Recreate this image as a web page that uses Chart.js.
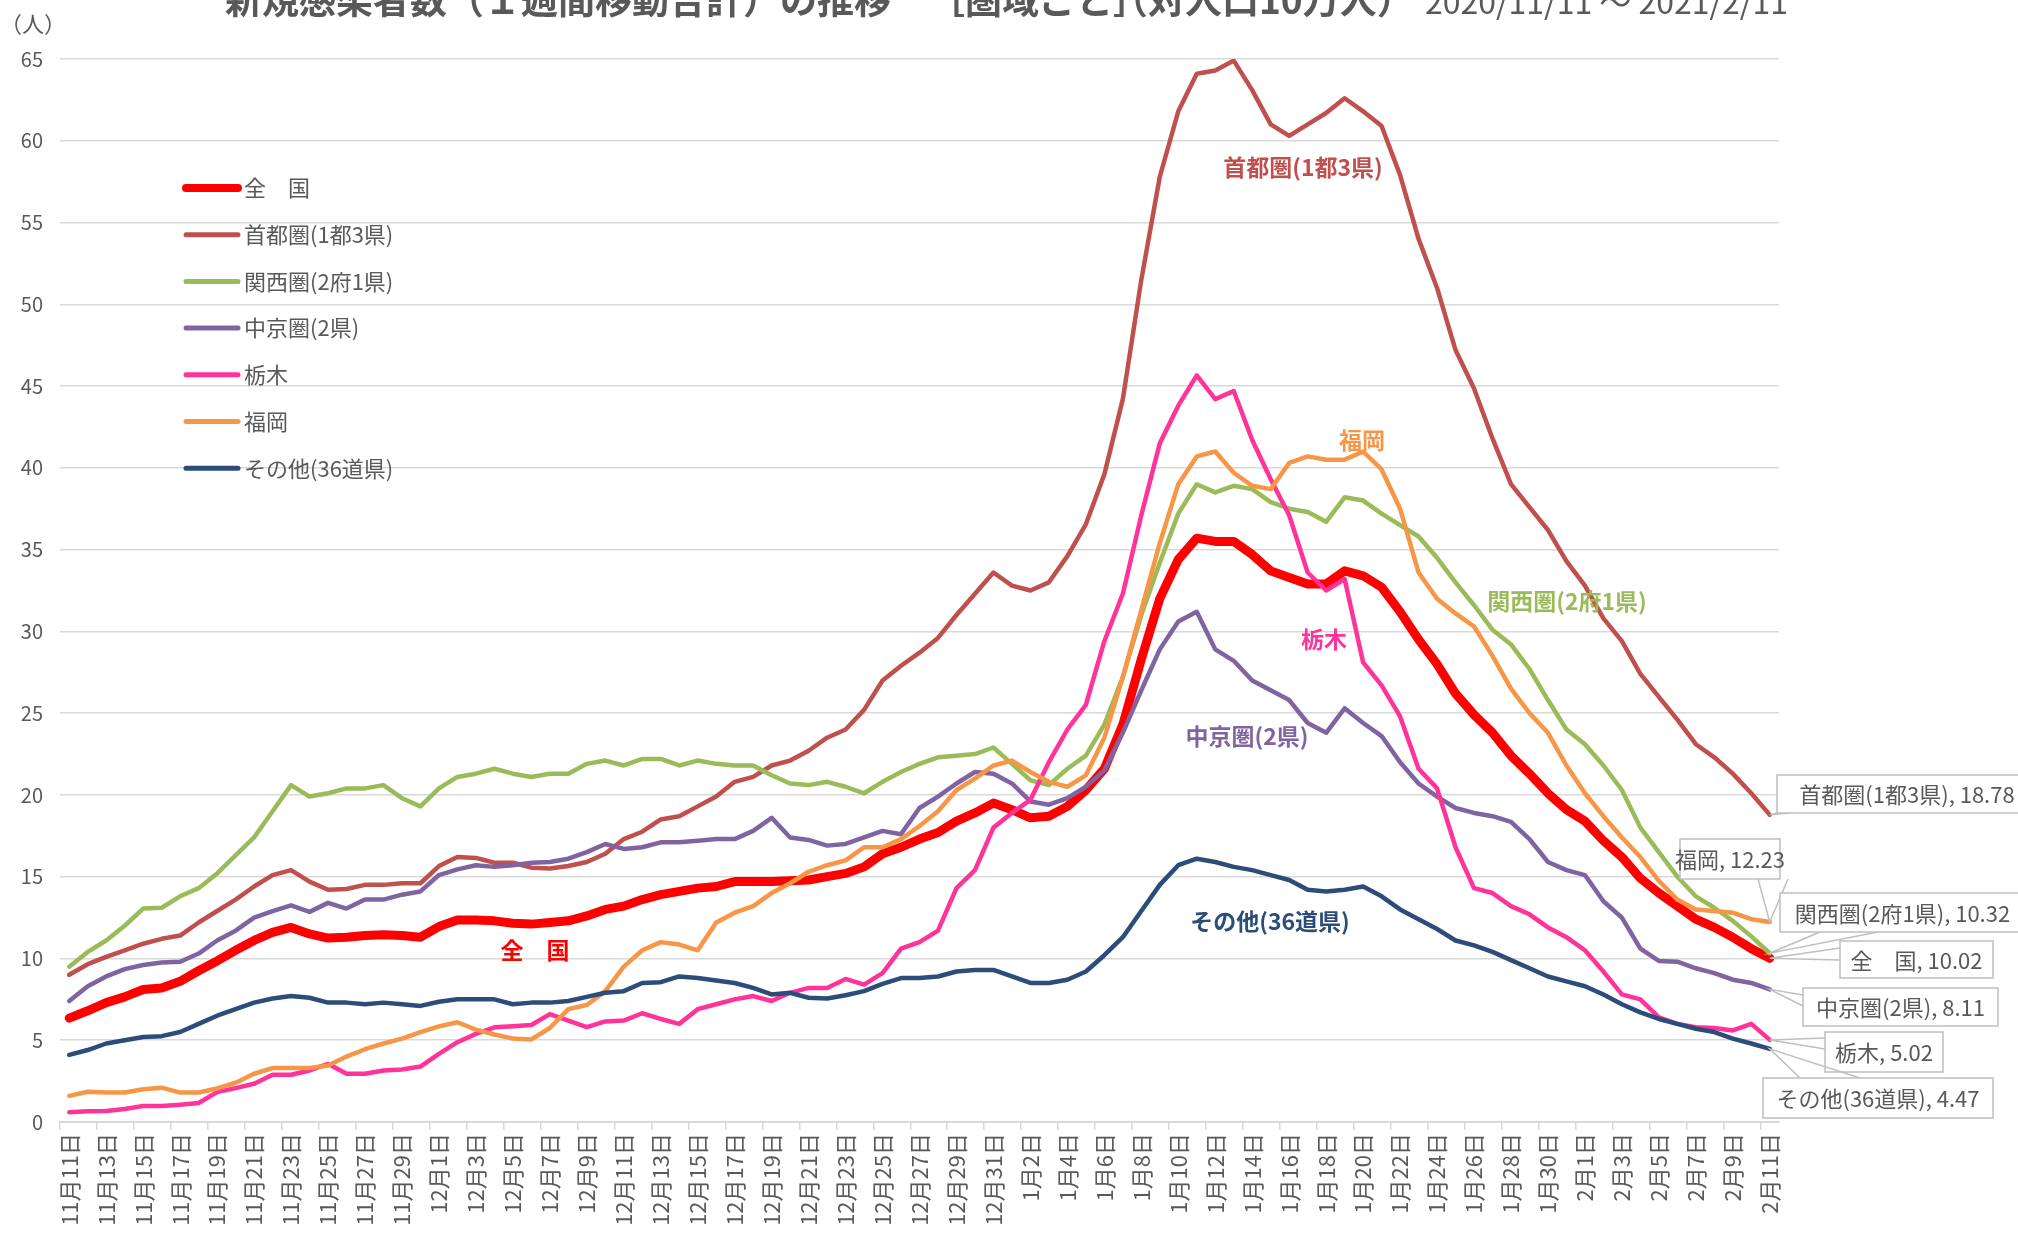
<!DOCTYPE html>
<html>
<head>
<meta charset="utf-8">
<script src="https://cdn.jsdelivr.net/npm/chart.js@4.4.1/dist/chart.umd.min.js"></script>
<style>
  html, body { margin: 0; padding: 0; background: #fff; }
  #wrap { width: 2018px; height: 1233px; position: relative; }
</style>
</head>
<body>
<div id="wrap"><canvas id="chart"></canvas></div>
<script>
const FONT = '"Noto Sans CJK JP", "Noto Sans", sans-serif';

const dates = [
  "11月11日","11月12日","11月13日","11月14日","11月15日","11月16日","11月17日","11月18日","11月19日","11月20日",
  "11月21日","11月22日","11月23日","11月24日","11月25日","11月26日","11月27日","11月28日","11月29日","11月30日",
  "12月1日","12月2日","12月3日","12月4日","12月5日","12月6日","12月7日","12月8日","12月9日","12月10日",
  "12月11日","12月12日","12月13日","12月14日","12月15日","12月16日","12月17日","12月18日","12月19日","12月20日",
  "12月21日","12月22日","12月23日","12月24日","12月25日","12月26日","12月27日","12月28日","12月29日","12月30日","12月31日",
  "1月1日","1月2日","1月3日","1月4日","1月5日","1月6日","1月7日","1月8日","1月9日","1月10日",
  "1月11日","1月12日","1月13日","1月14日","1月15日","1月16日","1月17日","1月18日","1月19日","1月20日",
  "1月21日","1月22日","1月23日","1月24日","1月25日","1月26日","1月27日","1月28日","1月29日","1月30日","1月31日",
  "2月1日","2月2日","2月3日","2月4日","2月5日","2月6日","2月7日","2月8日","2月9日","2月10日","2月11日"
];

const zenkoku = [
  6.35, 6.8, 7.3, 7.65, 8.1, 8.2, 8.6, 9.25, 9.85, 10.5, 11.1, 11.6, 11.9, 11.5, 11.25, 11.3, 11.4, 11.45, 11.4, 11.3,
  11.95, 12.35, 12.35, 12.3, 12.15, 12.1, 12.2, 12.3, 12.6, 13.0,
  13.2, 13.6, 13.9, 14.1, 14.3, 14.4, 14.7, 14.7, 14.7, 14.75, 14.8, 15.0, 15.2, 15.6, 16.4, 16.8, 17.3, 17.7, 18.4, 18.9,
  19.5, 19.1, 18.6, 18.7, 19.3, 20.3, 21.6,
  24.3, 28.3, 32.0, 34.4, 35.7, 35.5, 35.5, 34.7, 33.7, 33.3, 32.9, 32.9, 33.7, 33.4, 32.7, 31.2, 29.5, 28.0, 26.2, 24.9,
  23.8, 22.4, 21.3, 20.1, 19.1, 18.4, 17.2, 16.2, 14.9, 14.0, 13.2, 12.4, 11.9, 11.3, 10.6, 10.02
];

const shutoken = [
  9.0, 9.65, 10.1, 10.5, 10.9, 11.2, 11.4, 12.2, 12.9, 13.6, 14.4, 15.1, 15.4, 14.7, 14.2, 14.25, 14.5, 14.5, 14.6, 14.6,
  15.65, 16.2, 16.15, 15.85, 15.85, 15.55, 15.5, 15.65, 15.9, 16.4,
  17.3, 17.75, 18.5, 18.7, 19.3, 19.9, 20.8, 21.1, 21.8, 22.1, 22.7, 23.5, 24.0, 25.2, 27.0, 27.9, 28.7, 29.6, 31.0, 32.3,
  33.6, 32.8, 32.5, 33.0, 34.6,
  36.55, 39.6, 44.2, 51.5, 57.8, 61.8, 64.1, 64.3, 64.9, 63.1, 61.0, 60.3, 61.0, 61.7, 62.6, 61.8, 60.9, 57.9, 54.0, 51.0,
  47.2, 44.85,
  41.8, 39.0, 37.6, 36.2, 34.3, 32.8, 30.8, 29.4, 27.4, 26.0, 24.6, 23.1, 22.3, 21.3, 20.1, 18.78
];

const kansai = [
  9.5, 10.4, 11.1, 12.0, 13.05, 13.1, 13.8, 14.3, 15.2, 16.3, 17.4, 19.0, 20.6, 19.9, 20.1, 20.4, 20.4, 20.6, 19.8, 19.3,
  20.4, 21.1, 21.3, 21.6, 21.3, 21.1, 21.3, 21.3, 21.9, 22.1,
  21.8, 22.2, 22.2, 21.8, 22.1, 21.9, 21.8, 21.8, 21.2, 20.7, 20.6, 20.8, 20.5, 20.1, 20.8, 21.4, 21.9, 22.3, 22.4, 22.5,
  22.9, 21.9, 20.9, 20.6, 21.6, 22.4, 24.3,
  27.2, 31.0, 34.2, 37.2, 39.0, 38.5, 38.9, 38.7, 37.9, 37.5, 37.3, 36.7, 38.2, 38.0, 37.2, 36.5, 35.8, 34.5,
  33.0, 31.6, 30.1, 29.2, 27.7, 25.8, 24.0, 23.1, 21.8, 20.3, 18.0, 16.5, 15.0, 13.8, 13.1, 12.3, 11.35, 10.32
];

const chukyo = [
  7.4, 8.3, 8.9, 9.35, 9.6, 9.75, 9.8, 10.3, 11.1, 11.7, 12.5, 12.9, 13.25, 12.85, 13.4, 13.05, 13.6, 13.6, 13.9, 14.1,
  15.1, 15.45, 15.7, 15.6, 15.7, 15.85, 15.9, 16.1, 16.5, 17.0,
  16.7, 16.8, 17.1, 17.1, 17.2, 17.3, 17.3, 17.8, 18.6, 17.4, 17.25, 16.9, 17.0, 17.4, 17.8, 17.6, 19.2, 19.9, 20.7, 21.4,
  21.3, 20.7, 19.6, 19.4, 19.8,
  20.5, 21.5, 23.8, 26.4, 28.9, 30.6, 31.2, 28.9, 28.2, 27.0, 26.4, 25.8, 24.4, 23.8, 25.3, 24.4, 23.6, 22.0, 20.7, 19.9,
  19.2, 18.9,
  18.7, 18.35, 17.3, 15.9, 15.4, 15.1, 13.5, 12.5, 10.6, 9.85, 9.8, 9.4, 9.1, 8.7, 8.5, 8.11
];

const tochigi = [
  0.6, 0.65, 0.67, 0.8, 0.98, 0.98, 1.06, 1.16, 1.83, 2.07, 2.34, 2.89, 2.89, 3.15, 3.56, 2.95, 2.95, 3.15, 3.21, 3.39,
  4.16, 4.88, 5.39, 5.79, 5.85, 5.93, 6.6, 6.2, 5.8, 6.15,
  6.2, 6.65, 6.3, 6.0, 6.9, 7.2, 7.5, 7.7, 7.4, 7.9, 8.2, 8.2, 8.75, 8.4, 9.1, 10.6, 11.0, 11.7, 14.3, 15.4,
  18.0, 18.9, 19.7, 22.0, 24.0, 25.5, 29.4,
  32.3, 37.1, 41.5, 43.8, 45.65, 44.2, 44.7, 41.7, 39.3, 37.1, 33.6, 32.5, 33.2, 28.1, 26.7, 24.8, 21.6, 20.4,
  16.8, 14.3, 14.0, 13.2, 12.7, 11.9, 11.3, 10.5, 9.2, 7.8, 7.5, 6.4, 6.0, 5.8, 5.75, 5.6, 6.0, 5.02
];

const fukuoka = [
  1.6, 1.85, 1.8, 1.8, 2.0, 2.1, 1.8, 1.8, 2.05, 2.4, 2.95, 3.3, 3.3, 3.3, 3.45, 4.0, 4.45, 4.8, 5.1, 5.5,
  5.85, 6.1, 5.65, 5.35, 5.1, 5.05, 5.75, 6.9, 7.15, 8.0, 9.5,
  10.5, 11.0, 10.85, 10.5, 12.2, 12.8, 13.2, 14.0, 14.6, 15.3, 15.7, 16.0, 16.8, 16.8, 17.3, 18.1, 19.0, 20.3, 21.0,
  21.8, 22.1, 21.4, 20.8, 20.5, 21.2, 23.5,
  27.2, 31.3, 35.4, 39.0, 40.7, 41.0, 39.7, 38.9, 38.7, 40.3, 40.7, 40.5, 40.5, 41.0, 39.9, 37.5, 33.6, 32.0,
  31.1, 30.3, 28.5, 26.5, 25.0, 23.8, 21.8, 20.1, 18.7, 17.4, 16.2, 14.75, 13.6, 13.0, 12.9, 12.8, 12.4, 12.23
];

const sonota = [
  4.1, 4.4, 4.8, 5.0, 5.2, 5.25, 5.5, 6.0, 6.5, 6.9, 7.3, 7.55, 7.7, 7.6, 7.3, 7.3, 7.2, 7.3, 7.2, 7.1,
  7.35, 7.5, 7.5, 7.5, 7.2, 7.3, 7.3, 7.4, 7.65, 7.9,
  8.0, 8.5, 8.55, 8.9, 8.8, 8.65, 8.5, 8.2, 7.8, 7.9, 7.6, 7.55, 7.75, 8.0, 8.45, 8.8, 8.8, 8.9, 9.2, 9.3,
  9.3, 8.9, 8.5, 8.5, 8.7,
  9.2, 10.2, 11.3, 12.9, 14.5, 15.7, 16.1, 15.9, 15.6, 15.4, 15.1, 14.8, 14.2, 14.1, 14.2, 14.4, 13.8, 13.0, 12.4, 11.8,
  11.1, 10.8,
  10.4, 9.9, 9.4, 8.9, 8.6, 8.3, 7.8, 7.2, 6.7, 6.3, 6.0, 5.7, 5.5, 5.1, 4.8, 4.47
];

const seriesNames = ["全　国", "首都圏(1都3県)", "関西圏(2府1県)", "中京圏(2県)", "栃木", "福岡", "その他(36道県)"];
const yTicks = [0, 5, 10, 15, 20, 25, 30, 35, 40, 45, 50, 55, 60, 65];

function line(label, data, color, width, order) {
  return {
    label, data,
    borderColor: color,
    backgroundColor: color,
    borderWidth: width,
    pointRadius: 0,
    tension: 0,
    borderJoinStyle: "round",
    borderCapStyle: "round",
    fill: false,
    order
  };
}

// in-chart labels next to each curve
const curveLabels = [
  { text: "首都圏(1都3県)", color: "#C0504D", x: 1303, y: 167 },
  { text: "福岡", color: "#F79646", x: 1362, y: 440 },
  { text: "関西圏(2府1県)", color: "#9BBB59", x: 1567, y: 601 },
  { text: "栃木", color: "#FF3399", x: 1324, y: 639 },
  { text: "中京圏(2県)", color: "#8064A2", x: 1247, y: 736 },
  { text: "その他(36道県)", color: "#2C4D7A", x: 1270, y: 921 },
  { text: "全　国", color: "#FF0000", x: 535, y: 950 }
];

// end-of-line callout boxes: dataset index, box, leader anchors on the box
const callouts = [
  { ds: 1, box: [1777, 775, 260, 38], a: [[1777, 813], [1790, 813]] },
  { ds: 5, box: [1680, 839, 100, 40], a: [[1758, 879], [1788, 879]] },
  { ds: 2, box: [1780, 893, 245, 39], a: [[1820, 932], [1878, 932]] },
  { ds: 0, box: [1840, 941, 153, 37], a: [[1840, 948], [1840, 960]] },
  { ds: 3, box: [1803, 988, 195, 38], a: [[1803, 995], [1803, 1006]] },
  { ds: 4, box: [1825, 1032, 118, 40], a: [[1825, 1038], [1825, 1049]] },
  { ds: 6, box: [1763, 1078, 230, 40], a: [[1800, 1078], [1860, 1078]] }
];

const overlay = {
  id: "overlay",
  afterDatasetsDraw(chart) {
    const ctx = chart.ctx;
    const xs = chart.scales.x, ys = chart.scales.y;
    ctx.save();

    // title (top is cut off by the picture edge)
    ctx.fillStyle = "#595959";
    ctx.textBaseline = "alphabetic";
    ctx.textAlign = "left";
    ctx.font = "bold 37px " + FONT;
    ctx.fillText("新規感染者数（１週間移動合計）の推移", 225, 14);
    ctx.fillText("［圏域ごと］", 928, 14);
    ctx.fillText("（対人口10万人）", 1111, 14);
    ctx.font = "32px " + FONT;
    ctx.fillText("2020/11/11 ～ 2021/2/11", 1425, 14);

    // unit
    ctx.font = "22px " + FONT;
    ctx.textBaseline = "middle";
    ctx.fillText("（人）", 0, 24);

    // legend
    const ds = chart.data.datasets;
    ctx.font = "22px " + FONT;
    ctx.lineCap = "round";
    for (let i = 0; i < ds.length; i++) {
      const y = 188 + i * 46.7;
      ctx.strokeStyle = ds[i].borderColor;
      ctx.lineWidth = i === 0 ? 8 : 5;
      ctx.beginPath();
      ctx.moveTo(186, y);
      ctx.lineTo(238, y);
      ctx.stroke();
      ctx.fillStyle = "#595959";
      ctx.fillText(ds[i].label, 244, y);
    }

    // curve labels
    ctx.textAlign = "center";
    ctx.font = "bold 23px " + FONT;
    curveLabels.forEach(l => {
      ctx.fillStyle = l.color;
      ctx.fillText(l.text, l.x, l.y);
    });

    // callouts
    ctx.font = "22px " + FONT;
    ctx.lineCap = "butt";
    callouts.forEach(c => {
      const vals = ds[c.ds].data;
      const px = xs.getPixelForValue(vals.length - 1);
      const py = ys.getPixelForValue(vals[vals.length - 1]);
      ctx.strokeStyle = "#bfbfbf";
      ctx.lineWidth = 1.5;
      ctx.beginPath();
      ctx.moveTo(c.a[0][0], c.a[0][1]);
      ctx.lineTo(px, py);
      ctx.lineTo(c.a[1][0], c.a[1][1]);
      ctx.stroke();
      const [bx, by, bw, bh] = c.box;
      ctx.fillStyle = "#fff";
      ctx.fillRect(bx, by, bw, bh);
      ctx.strokeRect(bx, by, bw, bh);
      ctx.fillStyle = "#595959";
      ctx.fillText(ds[c.ds].label + ", " + vals[vals.length - 1], bx + bw / 2, by + bh / 2 + 1);
    });

    ctx.restore();
  }
};

new Chart(document.getElementById("chart"), {
  type: "line",
  data: {
    labels: dates,
    datasets: [
      line(seriesNames[0], zenkoku, "#FF0000", 9, 6),
      line(seriesNames[1], shutoken, "#C0504D", 4.5, 5),
      line(seriesNames[2], kansai, "#9BBB59", 4.5, 4),
      line(seriesNames[3], chukyo, "#8064A2", 4.5, 3),
      line(seriesNames[4], tochigi, "#FF3399", 4.5, 2),
      line(seriesNames[5], fukuoka, "#F79646", 4.5, 1),
      line(seriesNames[6], sonota, "#2C4D7A", 4.5, 0)
    ]
  },
  options: {
    responsive: true,
    maintainAspectRatio: false,
    animation: false,
    devicePixelRatio: 1,
    layout: { padding: { top: 59, right: 239, left: 0, bottom: 0 } },
    plugins: { legend: { display: false }, tooltip: { enabled: false }, title: { display: false } },
    scales: {
      x: {
        type: "category",
        offset: true,
        afterFit: s => { s.height = 111; },
        grid: {
          offset: true,
          drawOnChartArea: false,
          drawTicks: true,
          tickLength: 8,
          lineWidth: 1.5,
          color: c => (c.index % 2 === 0 ? "#d9d9d9" : "rgba(0,0,0,0)")
        },
        border: { color: "#d9d9d9", width: 2 },
        ticks: {
          autoSkip: false,
          maxRotation: 90,
          minRotation: 90,
          padding: 3,
          color: "#595959",
          font: { family: FONT, size: 22 },
          callback: function (v, i) { return i % 2 === 0 ? this.getLabelForValue(v) : ""; }
        }
      },
      y: {
        min: 0,
        max: 65,
        afterFit: s => { s.width = 60; },
        afterBuildTicks: s => { s.ticks = yTicks.map(v => ({ value: v })); },
        grid: { color: "#d9d9d9", lineWidth: 1.5, drawTicks: false },
        border: { display: false },
        ticks: {
          padding: 17,
          color: "#595959",
          font: { family: FONT, size: 20 }
        }
      }
    }
  },
  plugins: [overlay]
});
</script>
</body>
</html>
